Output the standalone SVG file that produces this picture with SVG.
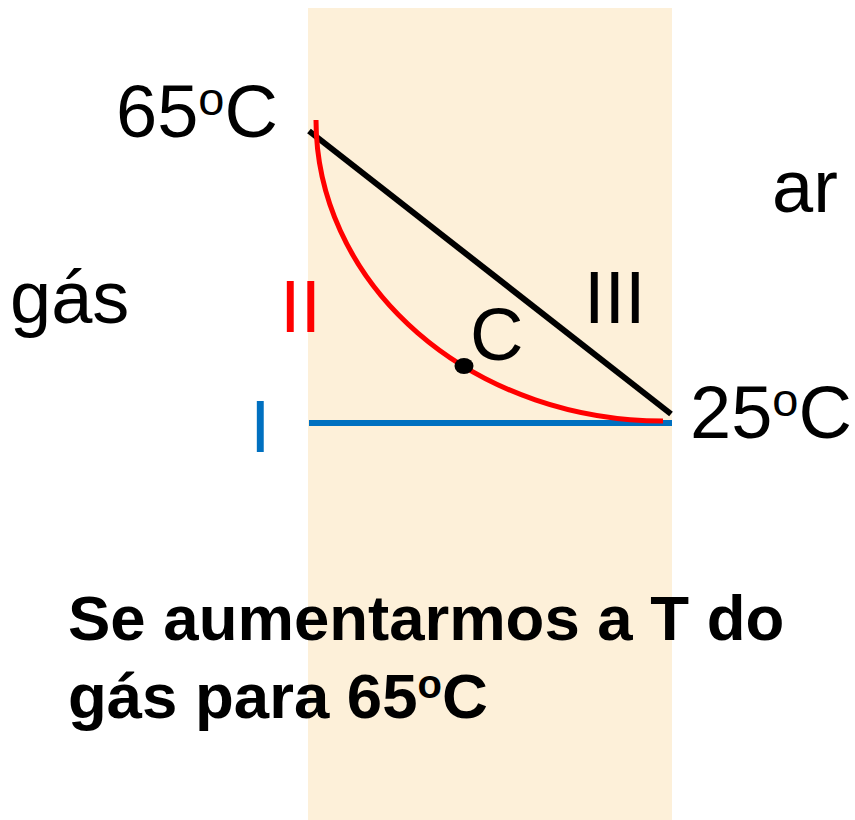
<svg xmlns="http://www.w3.org/2000/svg" width="855" height="820" viewBox="0 0 855 820">
  <style>
    .lbl { font-family: "Liberation Sans", Arial, sans-serif; font-size: 74px; fill: #000; }
    .bold { font-family: "Liberation Sans", Arial, sans-serif; font-size: 63.5px; font-weight: bold; fill: #000; }
    .sup { font-size: 47px; }
    .supb { font-size: 40px; }
  </style>
  <rect x="0" y="0" width="855" height="820" fill="#FFFFFF"/>
  <g id="panel">
    <rect x="308" y="8" width="364" height="812" fill="#FDF0D9"/>
  </g>
  <g id="connectors" fill="none">
    <line id="line-I" x1="309" y1="423" x2="672" y2="423" stroke="#0070C0" stroke-width="6"/>
    <line id="line-III" x1="309" y1="131" x2="671" y2="414" stroke="#000000" stroke-width="6"/>
    <path id="curve-II" d="M316,120 A347,301 0 0 0 663,421" stroke="#FF0000" stroke-width="5"/>
  </g>
  <g id="point-C">
    <ellipse cx="464" cy="366" rx="9.5" ry="8" fill="#000"/>
    <text class="lbl" x="470" y="360">C</text>
  </g>
  <g id="label-65">
    <text class="lbl" x="116" y="137">65<tspan class="sup" dy="-22">o</tspan><tspan dy="22">C</tspan></text>
  </g>
  <g id="label-25">
    <text class="lbl" x="690" y="438">25<tspan class="sup" dy="-22">o</tspan><tspan dy="22">C</tspan></text>
  </g>
  <g id="label-gas">
    <text class="lbl" x="10" y="323">gás</text>
  </g>
  <g id="label-ar">
    <text class="lbl" x="772" y="212">ar</text>
  </g>
  <g id="label-I">
    <text class="lbl" x="250" y="452" style="fill:#0070C0">I</text>
  </g>
  <g id="label-II">
    <text class="lbl" x="280" y="332" style="fill:#FF0000">II</text>
  </g>
  <g id="label-III">
    <text class="lbl" x="584" y="323">III</text>
  </g>
  <g id="caption">
    <text class="bold" x="68" y="640">Se aumentarmos a T do</text>
    <text class="bold" x="68" y="718">gás para 65<tspan class="supb" dy="-20">o</tspan><tspan dy="20">C</tspan></text>
  </g>
</svg>
